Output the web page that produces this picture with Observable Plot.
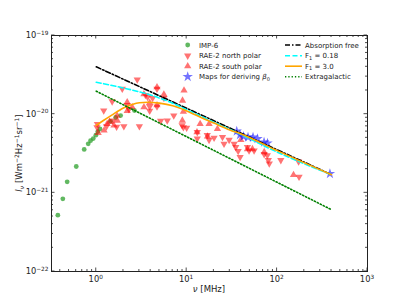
<!DOCTYPE html>
<html><head><meta charset="utf-8">
<script src="https://cdn.jsdelivr.net/npm/d3@7"></script>
<script src="https://cdn.jsdelivr.net/npm/@observablehq/plot@0.6"></script>
<style>body{margin:0;background:#fff} svg{font-family:"DejaVu Sans",sans-serif;overflow:visible}</style>
</head><body><div id="chart"></div>
<script>
// IMP-6
const impNu = [0.376,0.427,0.477,0.601,0.736,0.815,0.865,0.927,0.99,1.04,1.1,1.44,1.64,1.86,2.65];
const impI  = [5.2e-22,8.4e-22,1.38e-21,2.16e-21,3.56e-21,4.2e-21,4.6e-21,4.9e-21,5.4e-21,6.0e-21,6.5e-21,8.1e-21,9.1e-21,9.6e-21,1.11e-20];
// RAE-2 north polar (down triangles)
const northNu = [1.03,1.02,1.21,1.3,1.5,1.52,1.68,1.94,2.02,2.2,2.3,2.84,3.0,3.5,3.7,3.9,3.9,4.2,4.7,4.7,5.15,5.6,6.1,7.2,8.9,9.2,10,13.1,13.1,16.9,17.7,20.1,24.9,25.9,29.5,33.5,34.9,37.1,39,47,49,55.7,72,78,80,82,110,173,175];
const northI  = [7.5e-21,6.8e-21,1.11e-20,7.0e-21,1.45e-20,8.3e-21,6.9e-21,2.1e-20,7.0e-21,1.3e-20,1.15e-20,2.75e-20,7.0e-21,1.75e-20,1.65e-20,1.25e-20,1.1e-20,1.6e-20,2.1e-20,1.25e-20,8.2e-21,1.6e-20,8.3e-21,9.6e-21,7.2e-21,6.8e-21,6.7e-21,5.9e-21,4.9e-21,5.4e-21,4.7e-21,5.0e-21,5.1e-21,4.2e-21,4.7e-21,4.2e-21,3.8e-21,3.4e-21,2.85e-21,3.8e-21,3.45e-21,3.45e-21,3.1e-21,3.0e-21,2.6e-21,2.35e-21,2.6e-21,2.5e-21,1.6e-21];
// RAE-2 south polar (up triangles)
const southNu = [1.05,1.22,1.32,1.4,1.57,1.71,1.7,2.2,2.2,2.5,3.37,3.37,3.9,4.7,4.7,5.6,9.35,9.0,9.2,8.96,14.1,13,17.7,21.9,17,39.7,47,53.4,72,152];
const southI  = [5.8e-21,6.2e-21,7.5e-21,8.0e-21,7.2e-21,8.3e-21,9.6e-21,1.42e-20,1.1e-20,1.23e-20,1.23e-20,1.8e-20,1.4e-20,2.2e-20,1.3e-20,1.78e-20,2.0e-20,1.49e-20,1.08e-20,8.3e-21,7.5e-21,5.9e-21,7.5e-21,6.5e-21,5.2e-21,4.7e-21,3.6e-21,3.6e-21,3.3e-21,1.69e-21];
// Maps for deriving beta_0
const mapNu = [35.8,38.9,42.5,47.7,54.2,60.7,71.8,78.3,384];
const mapI  = [6.08e-21,5.47e-21,5.2e-21,5.1e-21,5.1e-21,4.86e-21,4.4e-21,4.28e-21,1.75e-21];
// Model curves
const absNu = [1,400];
const absI  = [4.0e-20,1.7e-21];
const f018Nu = [1,2,4,7,10,20,40,100,400];
const f018I  = [2.55e-20,2.15e-20,1.75e-20,1.38e-20,1.14e-20,7.9e-21,5.5e-21,3.3e-21,1.7e-21];
const f3Nu = [1,1.2,1.5,2,2.5,3,3.7,5,7,10,15,20,30,40,100,400];
const f3I  = [7.2e-21,8.3e-21,9.8e-21,1.2e-20,1.33e-20,1.4e-20,1.42e-20,1.38e-20,1.28e-20,1.1e-20,8.9e-21,7.7e-21,6.3e-21,5.6e-21,3.44e-21,1.7e-21];
const egNu = [1,400];
const egI  = [1.96e-20,6.1e-22];
// ticks
const xTicks = [1,10,100,1000];
const xTickExp = ["0","1","2","3"];
const yTicks = [1e-22,1e-21,1e-20,1e-19];
const yTickExp = ["−22","−21","−20","−19"];

const zip = (a,b) => a.map((v,i)=>({x:v,y:b[i]}));
const triDown = {draw(ctx,size){const s3=Math.sqrt(3);const y=Math.sqrt(size/(s3*3));ctx.moveTo(0,y*2);ctx.lineTo(-s3*y,-y);ctx.lineTo(s3*y,-y);ctx.closePath();}};
const RT = 2.7, LW = 1.6;

const plot = Plot.plot({
  width:407, height:305, marginLeft:51, marginRight:40, marginTop:35, marginBottom:34,
  x:{type:"log", domain:[0.32,1000], axis:null},
  y:{type:"log", domain:[1e-22,1e-19], axis:null},
  marks:[
    Plot.dot(zip(impNu,impI),{x:"x",y:"y",r:2.4,fill:"#2ca02c",fillOpacity:0.75,stroke:"none"}),
    Plot.dot(zip(northNu,northI),{x:"x",y:"y",r:RT,symbol:triDown,fill:"red",fillOpacity:0.55,stroke:"none"}),
    Plot.dot(zip(southNu,southI),{x:"x",y:"y",r:RT,symbol:"triangle",fill:"red",fillOpacity:0.55,stroke:"none"}),
    Plot.dot(zip(mapNu,mapI),{x:"x",y:"y",r:3.3,symbol:"star",fill:"blue",fillOpacity:0.55,stroke:"none"}),
    Plot.line(zip(absNu,absI),{x:"x",y:"y",stroke:"black",strokeWidth:LW,strokeDasharray:"5,2,1.5,2"}),
    Plot.line(zip(f018Nu,f018I),{x:"x",y:"y",stroke:"cyan",strokeWidth:LW,strokeDasharray:"5,2.5",curve:"monotone-x"}),
    Plot.line(zip(f3Nu,f3I),{x:"x",y:"y",stroke:"orange",strokeWidth:LW,curve:"monotone-x"}),
    Plot.line(zip(egNu,egI),{x:"x",y:"y",stroke:"green",strokeWidth:LW,strokeDasharray:"1.3,2"}),
    Plot.frame({stroke:"#222",strokeWidth:1})
  ]
});
document.getElementById("chart").appendChild(plot);

const sx = plot.scale("x"), sy = plot.scale("y");
const svg = d3.select(plot);
const X0 = sx.apply(0.32), X1 = sx.apply(1000), Y0 = sy.apply(1e-22), Y1 = sy.apply(1e-19);
const g = svg.append("g").attr("stroke","#222").attr("stroke-width",0.8);
const xMinor = [];
[0.1,1,10,100].forEach(d=>{for(let k=2;k<=9;k++){const v=d*k; if(v>=0.32&&v<=1000) xMinor.push(v);}});
xTicks.forEach(v=>{const p=sx.apply(v);g.append("line").attr("x1",p).attr("x2",p).attr("y1",Y0).attr("y2",Y0-3.5);g.append("line").attr("x1",p).attr("x2",p).attr("y1",Y1).attr("y2",Y1+3.5);});
xMinor.forEach(v=>{const p=sx.apply(v);g.append("line").attr("x1",p).attr("x2",p).attr("y1",Y0).attr("y2",Y0-2);g.append("line").attr("x1",p).attr("x2",p).attr("y1",Y1).attr("y2",Y1+2);});
const yMinor = [];
[1e-22,1e-21,1e-20].forEach(d=>{for(let k=2;k<=9;k++) yMinor.push(d*k);});
yTicks.forEach(v=>{const p=sy.apply(v);g.append("line").attr("y1",p).attr("y2",p).attr("x1",X0).attr("x2",X0+3.5);g.append("line").attr("y1",p).attr("y2",p).attr("x1",X1).attr("x2",X1-3.5);});
yMinor.forEach(v=>{const p=sy.apply(v);g.append("line").attr("y1",p).attr("y2",p).attr("x1",X0).attr("x2",X0+2);g.append("line").attr("y1",p).attr("y2",p).attr("x1",X1).attr("x2",X1-2);});

const tl = svg.append("g").attr("fill","#222").attr("font-size",8.3);
xTicks.forEach((v,i)=>{
  const t = tl.append("text").attr("x",sx.apply(v)).attr("y",Y0+11).attr("text-anchor","middle");
  t.append("tspan").text("10");
  t.append("tspan").attr("font-size",5.8).attr("dy",-3.5).text(xTickExp[i]);
});
yTicks.forEach((v,i)=>{
  const t = tl.append("text").attr("x",X0-2.5).attr("y",sy.apply(v)+3).attr("text-anchor","end");
  t.append("tspan").text("10");
  t.append("tspan").attr("font-size",5.8).attr("dy",-3.5).text(yTickExp[i]);
});
const xl = tl.append("text").attr("x",(X0+X1)/2).attr("y",Y0+20.5).attr("text-anchor","middle").attr("font-size",8.5);
xl.append("tspan").attr("font-style","italic").text("ν");
xl.append("tspan").text(" [MHz]");
const yl = tl.append("text").attr("transform",`translate(22,${(Y0+Y1)/2}) rotate(-90)`).attr("text-anchor","middle").attr("font-size",8.5);
yl.append("tspan").attr("font-style","italic").text("I");
yl.append("tspan").attr("font-style","italic").attr("font-size",6).attr("dy",2).text("ν");
yl.append("tspan").attr("dy",-2).text(" [Wm");
yl.append("tspan").attr("font-size",6).attr("dy",-3.5).text("−2");
yl.append("tspan").attr("dy",3.5).text("Hz");
yl.append("tspan").attr("font-size",6).attr("dy",-3.5).text("−1");
yl.append("tspan").attr("dy",3.5).text("sr");
yl.append("tspan").attr("font-size",6).attr("dy",-3.5).text("−1");
yl.append("tspan").attr("dy",3.5).text("]");

const lg = svg.append("g").attr("font-size",7).attr("text-anchor","start");
const rows = [45,55.7,66.2,76.7];
const sym = (type,size) => d3.symbol(type,size)();
const c1 = [
  {label:"IMP-6", path:sym(d3.symbolCircle,Math.PI*2.4*2.4), fill:"#2ca02c", op:0.75},
  {label:"RAE-2 north polar", path:sym(triDown,Math.PI*RT*RT), fill:"red", op:0.55},
  {label:"RAE-2 south polar", path:sym(d3.symbolTriangle,Math.PI*RT*RT), fill:"red", op:0.55},
  {label:null, path:sym(d3.symbolStar,Math.PI*3.3*3.3), fill:"blue", op:0.55}
];
c1.forEach((d,i)=>{
  lg.append("path").attr("d",d.path).attr("transform",`translate(187.7,${rows[i]})`).attr("fill",d.fill).attr("fill-opacity",d.op);
  const t = lg.append("text").attr("x",199).attr("y",rows[i]+2.5).attr("fill","#222").attr("text-anchor","start");
  if(d.label) t.text(d.label);
  else { t.append("tspan").text("Maps for deriving "); t.append("tspan").attr("font-style","italic").text("β"); t.append("tspan").attr("font-size",5).attr("dy",1.5).text("0"); }
});
const c2 = [
  {stroke:"black",dash:"5,2,1.5,2"},
  {stroke:"cyan",dash:"5,2.5"},
  {stroke:"orange",dash:null},
  {stroke:"green",dash:"1.3,2"}
];
const c2lab = ["Absorption free","F","F","Extragalactic"];
c2.forEach((d,i)=>{
  const l = lg.append("line").attr("x1",285).attr("x2",302).attr("y1",rows[i]).attr("y2",rows[i]).attr("stroke",d.stroke).attr("stroke-width",LW);
  if(d.dash) l.attr("stroke-dasharray",d.dash);
  const t = lg.append("text").attr("x",305).attr("y",rows[i]+2.5).attr("fill","#222").attr("text-anchor","start");
  if(i===1||i===2){ t.append("tspan").text("F"); t.append("tspan").attr("font-size",5).attr("dy",1.5).text("1"); t.append("tspan").attr("dy",-1.5).text(i===1?" = 0.18":" = 3.0"); }
  else t.text(c2lab[i]);
});
</script></body></html>
